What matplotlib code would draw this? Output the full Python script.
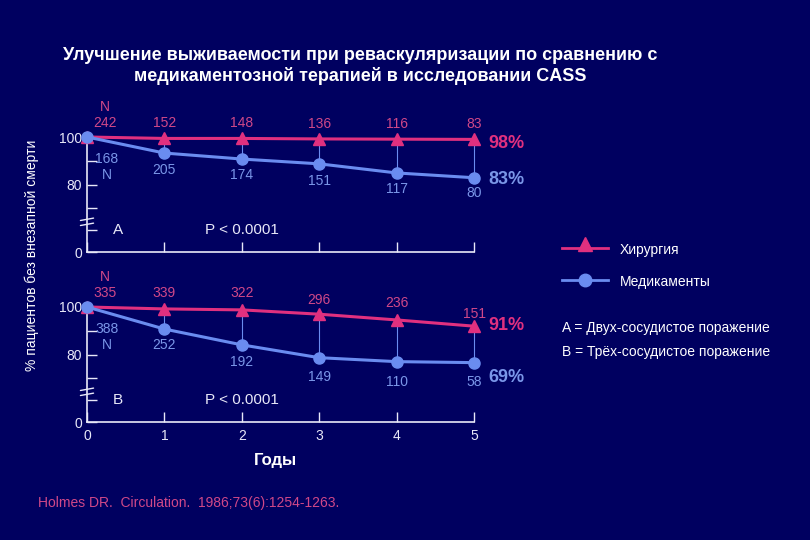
import matplotlib
matplotlib.use("Agg")
import matplotlib.pyplot as plt
from matplotlib.lines import Line2D
import numpy as np

plt.rcParams['font.family'] = ['Liberation Sans', 'DejaVu Sans']

years = [0, 1, 2, 3, 4, 5]
# panel A: two-vessel disease
surg_a = [100, 99.4, 99.4, 99.2, 99.1, 99.0]
med_a = [100, 93.3, 90.8, 88.8, 85.0, 83.0]
n_surg_a = ["242", "152", "148", "136", "116", "83"]
n_med_a = ["168", "205", "174", "151", "117", "80"]
# panel B: three-vessel disease
surg_b = [100, 99.2, 98.8, 97.0, 94.6, 92.0]
med_b = [100, 90.8, 84.2, 76.7, 72.0, 70.8]
n_surg_b = ["335", "339", "322", "296", "236", "151"]
n_med_b = ["388", "252", "192", "149", "110", "58"]

BG = "#000060"
PINK = "#e0307f"
BLUE = "#6a8cf0"
PINK_T = "#d04888"
BLUE_T = "#7a96e8"
AX = "#e8e8f8"


def fwd(y):
    y = np.asarray(y, dtype=float)
    return np.where(y >= 80, y, 52 + y * 28 / 80)


def inv(y):
    y = np.asarray(y, dtype=float)
    return np.where(y >= 80, y, (y - 52) * 80 / 28)


fig = plt.figure(figsize=(8.1, 5.4), dpi=100, facecolor=BG)
W, H = 810, 540


def panel(bottom_px, surg, med, ns, nm, letter, surg_off, med_off):
    ax = fig.add_axes([87 / W, (H - bottom_px) / H, 387 / W, 115 / H])
    ax.set_facecolor("none")
    ax.set_yscale("function", functions=(fwd, inv))
    ax.set_xlim(0, 5)
    ax.set_ylim(0, 100)
    for s in ["top", "right"]:
        ax.spines[s].set_visible(False)
    for s in ["left", "bottom"]:
        ax.spines[s].set_color(AX)
        ax.spines[s].set_linewidth(1.2)
    ax.set_yticks([0, 26, 52, 80, 90, 100])
    ax.set_yticklabels(["0", "", "", "80", "", "100"])
    ax.yaxis.set_minor_locator(plt.NullLocator())
    ax.set_xticks(years)
    ax.set_xticklabels([])
    ax.tick_params(direction="in", colors=AX, labelcolor=AX, labelsize=10, length=7, width=1)
    # vertical connectors
    for x, s, m in zip(years, surg, med):
        ax.plot([x, x], [m, s], color=BLUE, lw=0.8, clip_on=False)
    ax.plot(years, surg, color=PINK, lw=2.2, marker="^", ms=9, clip_on=False, zorder=3)
    ax.plot(years, med, color=BLUE, lw=2.2, marker="o", ms=8, clip_on=False, zorder=3)
    for i in range(1, 6):
        ax.annotate(ns[i], (years[i], surg[i]), xytext=(0, surg_off[i]), textcoords="offset pixels",
                    ha="center", va="center", color=PINK_T, fontsize=10)
        ax.annotate(nm[i], (years[i], med[i]), xytext=(0, -med_off[i]), textcoords="offset pixels",
                    ha="center", va="center", color=BLUE_T, fontsize=10)
    ax.annotate("N\n" + ns[0], (0, 100), xytext=(18, 22), textcoords="offset pixels",
                ha="center", va="center", color=PINK_T, fontsize=10, linespacing=1.2)
    ax.annotate(nm[0] + "\nN", (0, 100), xytext=(20, -30), textcoords="offset pixels",
                ha="center", va="center", color=BLUE_T, fontsize=10, linespacing=1.2)
    ax.text(0.4, 26, letter, color=AX, fontsize=11, ha="center", va="center")
    ax.text(2, 26, "P < 0.0001", color=AX, fontsize=11, ha="center", va="center")
    # axis break marks
    for dy in (-3, 3):
        ax.annotate("", xy=(0.12, 38 + dy), xytext=(-0.12, 34 + dy),
                    arrowprops=dict(arrowstyle="-", color=AX, lw=1), annotation_clip=False)
    return ax


axA = panel(252, surg_a, med_a, n_surg_a, n_med_a, "A",
            [14, 15, 15, 15, 15, 15], [17, 17, 16, 17, 16, 15])
axB = panel(422, surg_b, med_b, n_surg_b, n_med_b, "B",
            [14, 16, 17, 14, 17, 12], [17, 16, 17, 19, 20, 19])
axB.set_xticklabels([str(y) for y in years])
axB.tick_params(axis="x", pad=5)

fig.text(360 / W, 1 - 66 / H, "Улучшение выживаемости при реваскуляризации по сравнению с\nмедикаментозной терапией в исследовании CASS",
         ha="center", va="center", color="white", fontsize=13, fontweight="bold", linespacing=1.15)
fig.text(32 / W, 1 - 255 / H, "% пациентов без внезапной смерти", rotation=90,
         ha="center", va="center", color="white", fontsize=10)
fig.text(275 / W, 1 - 460 / H, "Годы", ha="center", va="center", color="white", fontsize=12, fontweight="bold")
fig.text(38 / W, 1 - 503 / H, "Holmes DR.  Circulation.  1986;73(6):1254-1263.",
         ha="left", va="center", color=PINK_T, fontsize=10)

for txt, col, y in [("98%", PINK, 143), ("83%", BLUE_T, 180), ("91%", PINK, 325), ("69%", BLUE_T, 378)]:
    fig.text(488 / W, 1 - y / H, txt, ha="left", va="center", color=col, fontsize=13, fontweight="bold")

fig.add_artist(Line2D([562 / W, 608 / W], [1 - 248 / H] * 2, color=PINK, lw=2))
fig.add_artist(Line2D([585 / W], [1 - 244 / H], color=PINK, marker="^", ms=10))
fig.add_artist(Line2D([562 / W, 608 / W], [1 - 280 / H] * 2, color=BLUE, lw=2))
fig.add_artist(Line2D([585 / W], [1 - 280 / H], color=BLUE, marker="o", ms=9))
fig.text(620 / W, 1 - 250 / H, "Хирургия", color="white", fontsize=10, va="center")
fig.text(620 / W, 1 - 282 / H, "Медикаменты", color="white", fontsize=10, va="center")
fig.text(562 / W, 1 - 328 / H, "A = Двух-сосудистое поражение", color="white", fontsize=10, va="center")
fig.text(562 / W, 1 - 352 / H, "B = Трёх-сосудистое поражение", color="white", fontsize=10, va="center")

fig.savefig("out.png", dpi=100, facecolor=BG)
